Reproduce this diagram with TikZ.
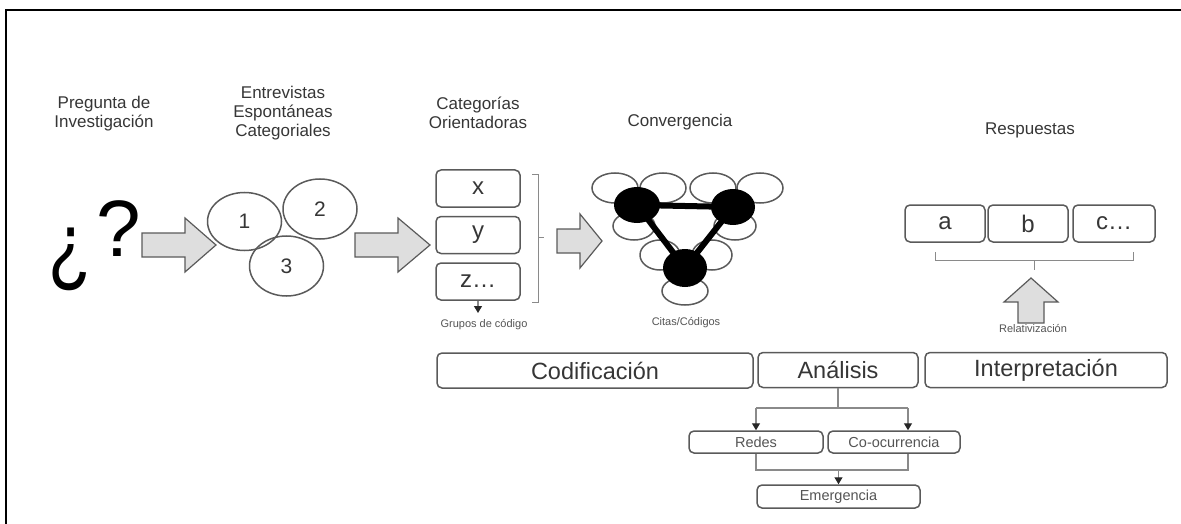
\documentclass[tikz,border=0pt]{standalone}
\usepackage{graphicx}
\usepackage{fontspec}
\setmainfont{Liberation Sans}
\usetikzlibrary{arrows.meta,shapes.geometric}
\definecolor{ink}{HTML}{363636}
\definecolor{edge}{HTML}{5A5A5A}
\definecolor{wire}{HTML}{8A8A8A}
\definecolor{shade}{HTML}{DEDEDE}

\begin{document}
\begin{tikzpicture}[x=1pt,y=-1pt,
  heading/.style={text=ink, font=\fontsize{17}{19}\selectfont, align=center, inner sep=0pt},
  tiny/.style={text=ink!85, font=\fontsize{11}{11}\selectfont, inner sep=0pt},
  stepbox/.style={draw=edge, line width=1.5pt, rounded corners=5pt, inner sep=0pt, text=ink},
  bigbox/.style={stepbox, minimum height=35pt, font=\fontsize{23.5}{24}\selectfont},
  catbox/.style={stepbox, minimum width=84pt, minimum height=37pt, font=\fontsize{24}{24}\selectfont},
  resbox/.style={stepbox, minimum width=80pt, minimum height=37pt, font=\fontsize{24}{24}\selectfont},
  subbox/.style={stepbox, minimum height=22pt, font=\fontsize{14.5}{15}\selectfont, text=ink!85},
  interview/.style={ellipse, draw=edge, line width=1.5pt, minimum width=74pt, minimum height=60pt, inner sep=0pt, text=ink, font=\fontsize{21}{21}\selectfont},
  ring/.style={draw=edge, line width=1.5pt},
  hub/.style={ellipse, fill=black, inner sep=0pt},
  glyph/.style={anchor=base west, inner sep=0pt},
  blockarrow/.style={draw=edge, fill=shade, line width=1.2pt, line join=miter},
  bracket/.style={draw=wire, line width=1pt},
  conn/.style={draw=wire, line width=1.2pt},
  tip/.style={-{Triangle[width=8pt,length=7pt,color=black!85]}}
]
\useasboundingbox (0,0) rectangle (1181,524);

% outer frame (left and top edges)
\draw[line width=2.5pt] (6,530) -- (6,9.8) -- (1190,9.8);

% column headings
\node[heading] (hq)   at (104,114) {Pregunta de\\Investigación};
\node[heading] (hent) at (283,113) {Entrevistas\\Espontáneas\\Categoriales};
\node[heading] (hcat) at (478,113) {Categorías\\Orientadoras};
\node[heading] (hcon) at (680,122) {Convergencia};
\node[heading] (hres) at (1030,130) {Respuestas};

% research question mark, the inverted mark larger, narrower and lower
\node[glyph, font=\fontsize{90}{90}\selectfont] (qo) at (48,275) {\scalebox{0.78}[1]{¿}};
\node[glyph, font=\fontsize{80}{80}\selectfont] (qc) at (96,256) {?};

% block arrow 1
\draw[blockarrow] (142,233) -- (185,233) -- (185,218) -- (216,245) -- (185,272) -- (185,257) -- (142,257) -- cycle;

% interviews
\node[interview, minimum height=58pt] (c1) at (244.5,221.5) {1};
\node[interview] (c2) at (320,209) {2};
\node[interview] (c3) at (286.5,266) {3};

% block arrow 2
\draw[blockarrow] (355,233) -- (398,233) -- (398,218) -- (430,245) -- (398,272) -- (398,257) -- (355,257) -- cycle;

% guiding categories
\node[catbox] (bx) at (478,188.5) {x};
\node[catbox] (by) at (478,235) {y};
\node[catbox] (bz) at (478,281.5) {z…};
\coordinate (kt) at (538,175);
\coordinate (kb) at (538,302);
\draw[bracket] ([xshift=-6pt]kt) -- (kt) -- (kb) -- ([xshift=-6pt]kb);
\draw[bracket] (538,237) -- (544,237);
\coordinate (gz) at (478,313);
\draw[conn, tip] (bz.south) -- (gz);
\node[tiny] (grp) at (484,325) {Grupos de código};

% block arrow 3
\draw[blockarrow] (557,229) -- (580,229) -- (580,214) -- (602,241) -- (580,268) -- (580,253) -- (557,253) -- cycle;

% convergence network
\foreach \cx in {615,663,713,760}
  \draw[ring] (\cx,188) ellipse [x radius=23, y radius=15];
\draw[ring] (634,226) ellipse [x radius=21, y radius=14];
\draw[ring] (735,226) ellipse [x radius=21, y radius=14];
\draw[ring] (660,255) ellipse [x radius=20, y radius=15];
\draw[ring] (712,255) ellipse [x radius=20, y radius=15];
\draw[ring] (685,291) ellipse [x radius=23, y radius=14];
\node[hub, minimum width=46pt, minimum height=36pt] (n1) at (637,205) {};
\node[hub, minimum width=44pt, minimum height=36pt] (n2) at (733,207) {};
\node[hub, minimum width=44pt, minimum height=38pt] (n3) at (685,268) {};
\draw[line width=6pt] (n1.center) -- (n2.center) -- (n3.center) -- cycle;
\node[tiny] (cit) at (686,323) {Citas/Códigos};

% answers
\node[resbox] (ra) at (945,223.5) {a};
\node[resbox] (rb) at (1028,223.5) {b};
\node[resbox, minimum width=82pt] (rc) at (1114,223.5) {c…};
\draw[bracket] (935,252) -- (935,260) -- (1133,260) -- (1133,252);
\draw[bracket] (1034,260) -- (1034,270);
\draw[blockarrow] (1018,323) -- (1018,302) -- (1004,302) -- (1031,278) -- (1058,302) -- (1044,302) -- (1044,323) -- cycle;
\node[tiny] (rel) at (1033,329) {Relativización};

% process bar
\node[bigbox, minimum width=316pt] (cod) at (595,370.5) {Codificación};
\node[bigbox, minimum width=160pt] (ana) at (838,370) {Análisis};
\node[bigbox, minimum width=242pt] (int) at (1046,370) {Interpretación};

% analysis outputs
\node[subbox, minimum width=134pt] (red) at (756,442) {Redes};
\node[subbox, minimum width=132pt] (coo) at (894,442) {Co-ocurrencia};
\node[subbox, minimum width=163pt, minimum height=23pt] (eme) at (838.5,496.5) {Emergencia};

\coordinate (jl) at (756,408);
\coordinate (jr) at (908,408);
\draw[conn] (ana.south) -- (ana.south |- jl);
\draw[conn] (jl) -- (jr);
\draw[conn, tip] (jl) -- (red.north);
\draw[conn, tip] (jr) -- (jr |- coo.north);

\coordinate (bl) at (756,470);
\coordinate (br) at (908,470);
\draw[conn] (red.south) -- (bl) -- (br) -- (br |- coo.south);
\draw[conn, tip] (eme.north |- bl) -- (eme.north);
\end{tikzpicture}
\end{document}
